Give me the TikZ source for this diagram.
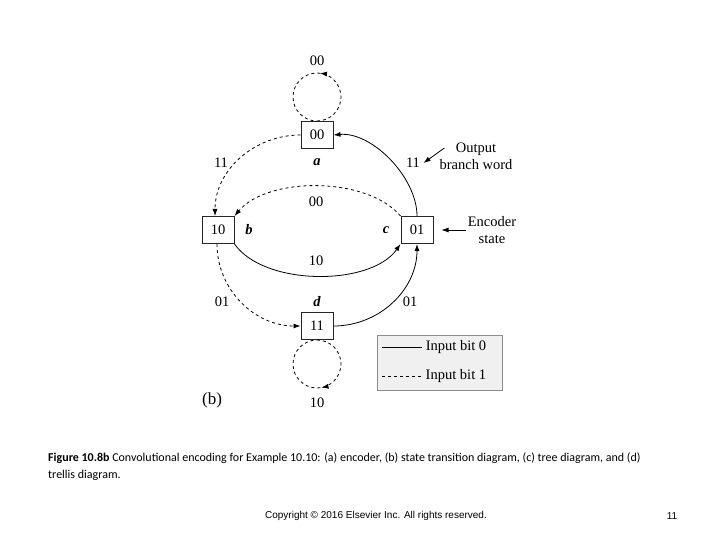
\documentclass[tikz,border=0pt]{standalone}
\usepackage{fontspec}
\setmainfont{Liberation Serif}
\newfontfamily\capfont{Carlito}
\newfontfamily\copyfont{Liberation Sans}
\usetikzlibrary{arrows.meta,decorations.markings}
\tikzset{>={Latex[length=7pt,width=5pt]},every node/.style={font=\fontsize{14.5}{17}\selectfont},
state/.style={draw=black!85,line width=1pt,minimum width=32pt,minimum height=27pt,inner sep=0pt},
flow/.style={->,line width=.8pt},jump/.style={->,dashed,line width=.8pt},
selfloop/.style={dashed,line width=.8pt,postaction={decorate},decoration={markings,mark=at position #1 with {\arrow{>}}}},
tag/.style={font=\fontsize{14.5}{17}\selectfont\bfseries\itshape}}

\begin{document}
\begin{tikzpicture}[x=1pt,y=-1pt]
\useasboundingbox (0,0) rectangle (720,540);
\node[state] (a) at (317,135) {00};\node[state] (b) at (218,230) {10};
\node[state] (c) at (417,230) {01};\node[state] (d) at (317,326) {11};
\node[tag] (la) at (317,162) {a};\node[tag] (lb) at (249,230) {b};
\node[tag] (lc) at (386,230) {c};\node[tag] (ld) at (317,302) {d};
% self loops
\draw[selfloop=.48] (a.north) arc[start angle=90,delta angle=-360,radius=24];\node (w00) at (317,61) {00};
\draw[selfloop=.47] (d.south) arc[start angle=-90,delta angle=360,radius=24];\node (w10) at (317,403) {10};
% transitions
\draw[jump] (a.west) to[out=180,in=90] ([xshift=-3pt]b.north);\node (w11l) at (221,163) {11};
\draw[flow] (c.north) to[out=90,in=5,looseness=.85] (a.east);\node (w11r) at (413,163) {11};
\draw[jump] (c.north west) to[out=130,in=50,looseness=.8] (b.north east);\node (w00m) at (316,202) {00};
\draw[flow] (b.south east) to[out=-55,in=-125,looseness=.8] (c.south west);\node (w10m) at (316,261) {10};
\draw[jump] ([xshift=-1pt]b.south) to[out=-90,in=180] (d.west);\node (w01l) at (222,302) {01};
\draw[flow] (d.east) to[out=0,in=-90] (c.south);\node (w01r) at (410,302) {01};
% notes
\node[align=center,inner sep=2pt] (out) at (476,156) {Output\\branch word};
\draw[flow] ([shift={(7,-8)}]out.west) -- (w11r.east);
\node[align=center,inner sep=2pt] (enc) at (492,230) {Encoder\\state};
\draw[flow,shorten >=8pt] (enc.west) -- (c.east);
% legend
\node[draw=black!45,fill=black!6,line width=.8pt,minimum width=125pt,minimum height=55pt] (key) at (439.5,362.5) {};
\draw[line width=.9pt] (382,347) -- (422,347) node[right] (k0) {Input bit 0};
\draw[dashed,line width=.8pt] (382,376) -- (422,376) node[right] (k1) {Input bit 1};
\node[font=\fontsize{17}{20}\selectfont] (pb) at (212,400) {(b)};
% caption
\node[anchor=west,align=left,inner sep=0pt,font=\capfont\fontsize{12}{17}\selectfont] (cap) at (48,466.5) {\textbf{Figure 10.8b} Convolutional encoding for Example 10.10: (a) encoder, (b) state transition diagram, (c) tree diagram, and (d)\\trellis diagram.};
\node[font=\copyfont\fontsize{10}{11}\selectfont] (copy) at (376,516) {Copyright © 2016 Elsevier Inc. All rights reserved.};
\node[font=\copyfont\fontsize{10}{11}\selectfont] (pg) at (672,516) {11};
\end{tikzpicture}
\end{document}
